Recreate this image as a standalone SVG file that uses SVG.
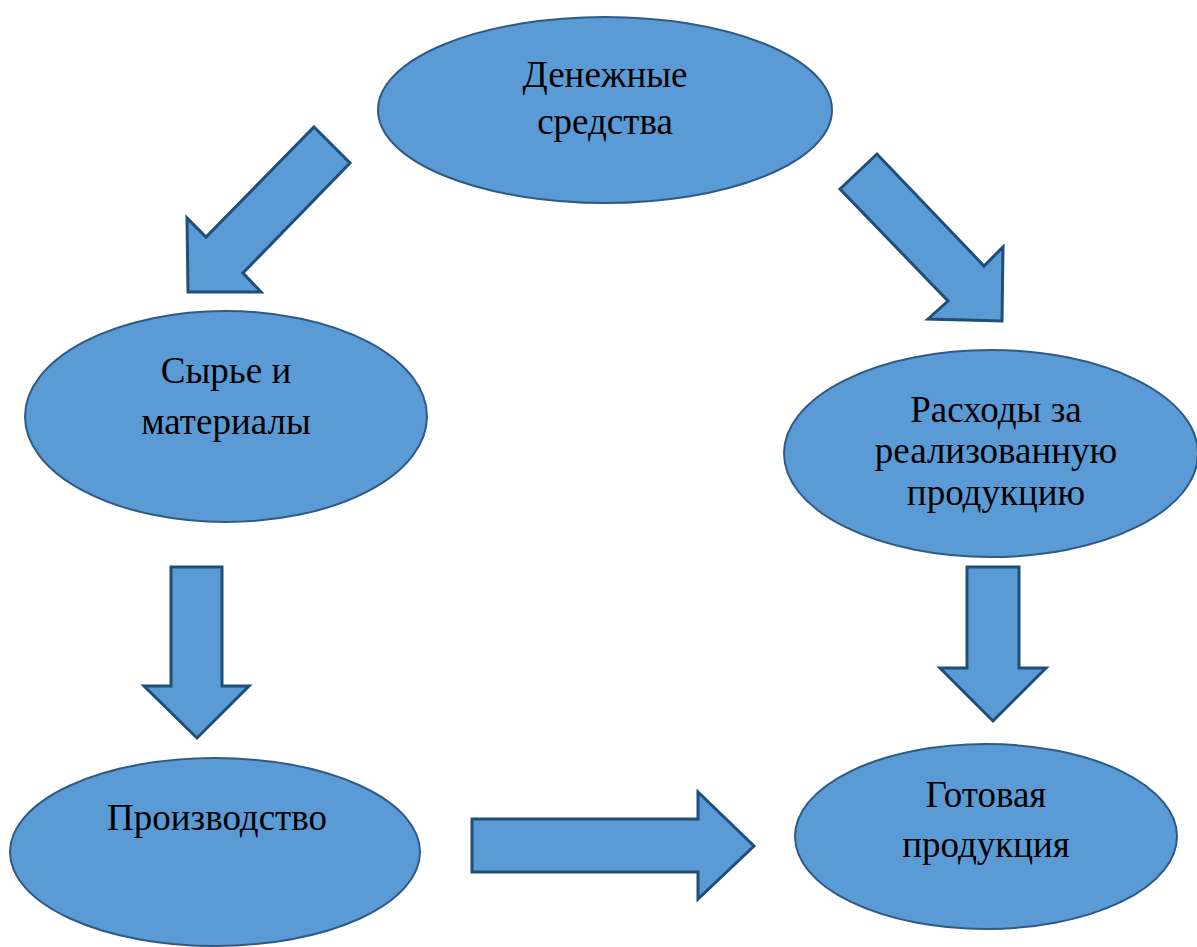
<svg xmlns="http://www.w3.org/2000/svg" width="1197" height="947" viewBox="0 0 1197 947">
<style>
.node ellipse{fill:#5B9BD5;stroke:#2E5A87;stroke-width:2}
.arrow{fill:#5B9BD5;stroke:#1F4E79;stroke-width:3;stroke-linejoin:miter}
text{font-family:"Liberation Serif","Times New Roman",serif;font-size:37px;fill:#000;text-anchor:middle}
</style>
<rect width="1197" height="947" fill="#fff"/>
<g id="connectors">
<polygon class="arrow" points="314,127 350,163 243,273 261,292 188,292 187,218 206,237"/>
<polygon class="arrow" points="840,189 877,154 984,266 1003,247 1002,321 928,319 948,301"/>
<polygon class="arrow" points="171,567 222,567 222,686 249,686 197,738 144,686 171,686"/>
<polygon class="arrow" points="967,567 1019,567 1019,668 1046,668 993,721 940,668 967,668"/>
<polygon class="arrow" points="472,819 698,819 698,792 754,846 698,899 698,872 472,872"/>
</g>
<g id="node-money" class="node">
<ellipse cx="605" cy="110" rx="227" ry="93"/>
<text x="605" y="87">Денежные</text>
<text x="605" y="134">средства</text>
</g>
<g id="node-materials" class="node">
<ellipse cx="226" cy="416.5" rx="201" ry="105.5"/>
<text x="226" y="383">Сырье и</text>
<text x="226" y="434">материалы</text>
</g>
<g id="node-expenses" class="node">
<ellipse cx="991" cy="453.5" rx="207" ry="103.5"/>
<text x="996" y="422">Расходы за</text>
<text x="996" y="463">реализованную</text>
<text x="996" y="505">продукцию</text>
</g>
<g id="node-production" class="node">
<ellipse cx="215" cy="852" rx="205" ry="94"/>
<text x="217" y="830">Производство</text>
</g>
<g id="node-finished" class="node">
<ellipse cx="986" cy="836.5" rx="191" ry="92.5"/>
<text x="986" y="807">Готовая</text>
<text x="986" y="857">продукция</text>
</g>
</svg>
